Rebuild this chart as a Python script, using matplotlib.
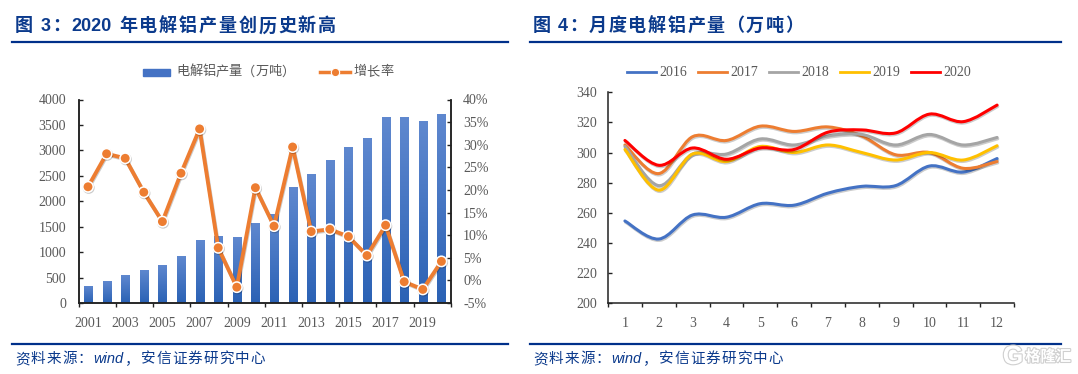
import re
import matplotlib
matplotlib.use("Agg")
import matplotlib.pyplot as plt
import matplotlib.patheffects as pe
from matplotlib.path import Path
from matplotlib.patches import PathPatch
from matplotlib.ticker import FuncFormatter
import numpy as np

plt.rcParams['font.family'] = ['Liberation Serif', 'Noto Sans CJK SC']

W, H = 1078, 374
NAVY = '#0b3a8c'
TICK = '#595959'
CJK = ['Liberation Sans', 'Noto Sans CJK SC']

# Left chart data
years = list(range(2001, 2021))
output = [337, 432, 545, 650, 750, 925, 1230, 1320, 1290, 1565,
          1755, 2280, 2530, 2810, 3075, 3250, 3650, 3650, 3570, 3720]
growth = [20.7, 28, 27, 19.5, 13, 23.7, 33.5, 7.2, -1.5, 20.5,
          12, 29.5, 10.8, 11.3, 9.7, 5.5, 12.2, -0.3, -2, 4.2]

# Right chart data
months = list(range(1, 13))
y2016 = [254.5, 242.5, 258.5, 257, 266, 265, 273, 277.5, 278, 291, 287, 296]
y2017 = [305, 286, 310.5, 308, 317.5, 314, 317, 311, 298.5, 300, 289.5, 294]
y2018 = [304, 278, 299, 299, 309, 305, 311, 312, 305, 312, 305, 310]
y2019 = [302, 275, 299, 294, 304, 300, 305, 300, 295, 300, 295, 304.5]
y2020 = [308, 291.5, 303, 295.5, 303, 302, 313.5, 315, 313, 325.5, 320.5, 331.5]


def px_axes(x0, y0, x1, y1):
    # axes from pixel box, y measured from the top
    return fig.add_axes([x0 / W, 1 - y1 / H, (x1 - x0) / W, (y1 - y0) / H])


def smooth_path(x, y):
    # excel style smoothed line, bezier through the points
    x, y = np.asarray(x, float), np.asarray(y, float)
    verts = [(x[0], y[0])]
    codes = [Path.MOVETO]
    for i in range(len(x) - 1):
        a = max(i - 1, 0)
        b = min(i + 2, len(x) - 1)
        verts.append((x[i] + (x[i + 1] - x[a]) / 6, y[i] + (y[i + 1] - y[a]) / 6))
        verts.append((x[i + 1] - (x[b] - x[i]) / 6, y[i + 1] - (y[b] - y[i]) / 6))
        verts.append((x[i + 1], y[i + 1]))
        codes += [Path.CURVE4] * 3
    return Path(verts, codes)


def spaced(x, y, s, size, pitch, **kw):
    # the reference text is tracked out, so place cjk glyphs one by one
    cur = x
    for tok in re.findall(r'[A-Za-z0-9]+| |.', s):
        if tok == ' ':
            cur += size * 100 / 72 * 0.3
            continue
        t = fig.text(cur / W, 1 - y / H, tok, family=CJK, fontsize=size, va='center', **kw)
        if tok.isascii():
            cur += t.get_window_extent(renderer).width + 1.5
        else:
            cur += pitch


def style_axis(ax):
    ax.patch.set_alpha(0)
    for s in ax.spines.values():
        s.set_color('#222222')
        s.set_linewidth(1.1)
    ax.tick_params(colors=TICK, labelsize=10, length=3, width=1, color='#222222')


fig = plt.figure(figsize=(W / 100, H / 100), dpi=100)
renderer = fig.canvas.get_renderer()

# Headers and rules
spaced(15, 26.5, '图 3：2020 年电解铝产量创历史新高', 13, 19.9, fontweight='bold', color=NAVY)
spaced(533, 26.5, '图 4：月度电解铝产量（万吨）', 13, 19.6, fontweight='bold', color=NAVY)
for x0, x1 in [(12, 507.7), (530, 1060.7)]:
    for yy in [41.7, 344]:
        fig.add_artist(plt.Line2D([x0 / W, x1 / W], [1 - yy / H] * 2, color='#00308a', lw=1.6))
for x0 in [15, 533]:
    spaced(x0, 359, '资料来源：wind，安信证券研究中心', 10.5, 15.7, style='italic', color=NAVY)

# Left chart
ax1 = px_axes(78.7, 99.5, 450.7, 303)
style_axis(ax1)
bars = ax1.bar(years, output, width=0.44, color='#3f6fc0', zorder=2)
grad = np.linspace(0, 1, 64).reshape(-1, 1)
cmap = matplotlib.colors.LinearSegmentedColormap.from_list('bar', ['#2b62b5', '#5f88cf'])
for b in bars:
    im = ax1.imshow(grad, cmap=cmap, origin='lower', aspect='auto', zorder=2,
                    extent=[b.get_x(), b.get_x() + b.get_width(), 0, b.get_height()])
    im.set_clip_path(b)
ax1.set_xlim(2000.5, 2020.5)
ax1.set_ylim(0, 4000)
ax1.set_yticks(range(0, 4001, 500))
ax1.set_xticks(years[::2])
ax1.set_xticks([y - 0.5 for y in years[::2]] + [2020.5], minor=True)
ax1.tick_params(axis='x', which='major', length=0, pad=10)
ax1.tick_params(axis='x', which='minor', length=3, width=1, color='#222222')
ax1.tick_params(axis='y', direction='in', length=3, pad=9)

ax2 = ax1.twinx()
style_axis(ax2)
ax2.set_ylim(-5, 40)
ax2.set_yticks(range(-5, 41, 5))
ax2.yaxis.set_major_formatter(FuncFormatter(lambda v, p: '%d%%' % v))
ax2.tick_params(axis='y', direction='in', length=3, pad=9)
shadow = [pe.SimpleLineShadow(offset=(0.5, -0.8), alpha=0.2), pe.Normal()]
line, = ax2.plot(years, growth, color='#ed7d31', lw=2.8, marker='o', ms=7.5,
                 mfc='#ed7d31', mec='white', mew=1.1, zorder=4, path_effects=shadow)
ax1.spines['top'].set_visible(False)
ax2.spines['top'].set_visible(False)

# Left legend
fig.add_artist(plt.Rectangle((143 / W, 1 - 76 / H), 27 / W, 7 / H, color='#4472c4'))
spaced(176, 72, '电解铝产量（万吨）', 9.5, 13.2, color=TICK)
fig.add_artist(plt.Line2D([319.5 / W, 350 / W], [1 - 72 / H] * 2, color='#ed7d31', lw=2.5))
fig.add_artist(plt.Line2D([335 / W], [1 - 72 / H], color='#ed7d31', marker='o', ms=6,
                          mec='white', mew=0.8))
spaced(353, 72, '增长率', 9.5, 13.5, color=TICK)

# Right chart
ax3 = px_axes(608, 92.3, 1014, 303)
style_axis(ax3)
ax3.spines['top'].set_visible(False)
ax3.spines['right'].set_visible(False)
ax3.set_xlim(0.5, 12.5)
ax3.set_ylim(200, 340)
ax3.set_yticks(range(200, 341, 20))
ax3.set_xticks(months)
ax3.set_xticks([m + 0.5 for m in [0] + months], minor=True)
ax3.tick_params(axis='x', which='major', length=0, pad=10)
ax3.tick_params(axis='x', which='minor', length=3, width=1, color='#222222')
ax3.tick_params(axis='y', direction='in', length=3, pad=8)

series = [('2016', y2016, '#4472c4'), ('2017', y2017, '#ed7d31'), ('2018', y2018, '#a5a5a5'),
          ('2019', y2019, '#ffc000'), ('2020', y2020, '#ff0000')]
line_shadow = [pe.SimpleLineShadow(offset=(0.5, -1), alpha=0.2), pe.Normal()]
for i, (name, vals, col) in enumerate(series):
    ax3.add_patch(PathPatch(smooth_path(months, vals), fc='none', ec=col, lw=2.2,
                            capstyle='round', path_effects=line_shadow, zorder=3 + i))
    x0 = 627 + i * 71
    fig.add_artist(plt.Line2D([x0 / W, (x0 + 29) / W], [1 - 72 / H] * 2, color=col, lw=2))
    fig.text((x0 + 32) / W, 1 - 72 / H, name, fontsize=10, color=TICK, va='center')

# Watermark
outline = [pe.withStroke(linewidth=1.6, foreground='#cfcfcf')]
fig.text(1048 / W, 1 - 357 / H, '格隆汇', family=CJK, fontsize=11, fontweight='bold',
         color='white', va='center', ha='center', path_effects=outline)
fig.text(1013 / W, 1 - 357 / H, 'G', family=['Liberation Sans'], fontsize=19, fontweight='bold',
         color='white', va='center', ha='center', path_effects=outline)

fig.savefig('out.png', dpi=100)
